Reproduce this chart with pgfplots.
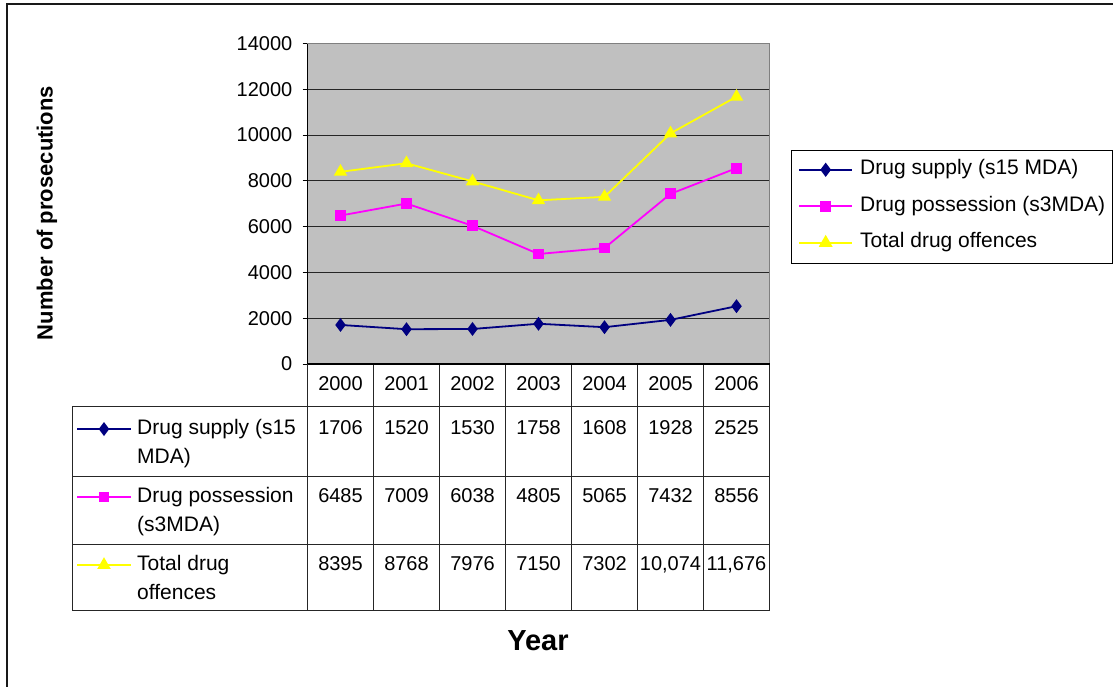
\documentclass[border=0pt]{standalone}
\usepackage{fontspec}
\setmainfont{Liberation Sans}
\usepackage{pgfplots}
\pgfplotsset{compat=1.18}
\definecolor{plotbg}{RGB}{192,192,192}
\definecolor{bordergray}{RGB}{128,128,128}
\definecolor{supply}{RGB}{0,0,128}
\definecolor{poss}{RGB}{255,0,255}
\definecolor{total}{RGB}{255,255,0}
\newcommand\tf{\fontsize{20}{24}\selectfont}
\newcommand\tx{\fontsize{21}{25}\selectfont}
\begin{document}
\begin{tikzpicture}
\useasboundingbox (0pt,0pt) rectangle (1113pt,-686pt);
\begin{axis}[
  at={(307.5pt,-364pt)}, anchor=south west,
  scale only axis, width=462pt, height=320.5pt,
  xmin=-0.5, xmax=6.5, ymin=0, ymax=14000,
  xtick=\empty,
  ytick={0,2000,...,14000},
  scaled y ticks=false,
  ytick pos=left, tick align=outside, major tick length=5pt,
  tick style={black, line width=1pt},
  ymajorgrids, grid style={black!85, line width=1pt},
  axis background/.style={fill=plotbg},
  axis line style={bordergray, line width=1.2pt},
  yticklabel style={font=\tf, inner sep=0pt, xshift=-10pt},
  /pgf/number format/assume math mode=true,
  /pgf/number format/1000 sep={},
  legend style={at={(1.0465,0.669)}, anchor=north west, draw=black,
    fill=white, font=\tx, inner xsep=7pt, inner ysep=10pt, row sep=16.5pt, column sep=7pt,
    nodes={inner sep=0pt, text height=15pt, text depth=5pt}, cells={anchor=west}},
  legend image code/.code={%
    \draw[#1, line width=2pt] (0pt,0pt) -- (53pt,0pt);
    \draw[#1, line width=2pt] plot[mark repeat=2, mark phase=2] coordinates {(0pt,0pt) (26.5pt,0pt) (53pt,0pt)};},
  clip=false,
]
\addplot[supply, line width=1.8pt, mark=diamond*, mark size=5.5pt, mark options={solid, fill=supply}]
  coordinates {(0,1706) (1,1520) (2,1530) (3,1758) (4,1608) (5,1928) (6,2525)};
\addlegendentry{Drug supply (s15 MDA)}
\addplot[poss, line width=1.8pt, mark=square*, mark size=4.5pt, mark options={solid, fill=poss}]
  coordinates {(0,6485) (1,7009) (2,6038) (3,4805) (4,5065) (5,7432) (6,8556)};
\addlegendentry{Drug possession (s3MDA)}
\addplot[total, line width=1.8pt, mark=triangle*, mark size=6pt, mark options={solid, fill=total}]
  coordinates {(0,8395) (1,8768) (2,7976) (3,7150) (4,7302) (5,10074) (6,11676)};
\addlegendentry{Total drug offences}
\draw[black, line width=1.2pt] (rel axis cs:0,0) -- (rel axis cs:0,1);
\end{axis}
\begin{scope}[x=1pt, y=-1pt]
  % outer frame
  \draw[line width=2pt, black!90] (7,700) -- (7,4) -- (1130,4);
  % data table grid
  \begin{scope}[line width=1pt, draw=black!85]
    \foreach \k in {1,...,7} { \draw ({307.5+66*\k},364) -- ({307.5+66*\k},610); }
    \draw (307.5,364) -- (307.5,610);
    \draw (72,406) -- (72,610);
    \foreach \yy in {406,476,544,610} { \draw (72,\yy) -- (769.5,\yy); }
  \end{scope}
  \draw[black, line width=1.2pt] (307.5,364) -- (769.5,364);
  % header
  \foreach \t [count=\i from 0] in {2000,2001,2002,2003,2004,2005,2006}
    \node[anchor=base, font=\tf, inner sep=0pt] at ({340.5+66*\i},390) {\t};
  \foreach \t [count=\i from 0] in {1706,1520,1530,1758,1608,1928,2525}
    \node[anchor=base, font=\tf, inner sep=0pt] at ({340.5+66*\i},434) {\t};
  \foreach \t [count=\i from 0] in {6485,7009,6038,4805,5065,7432,8556}
    \node[anchor=base, font=\tf, inner sep=0pt] at ({340.5+66*\i},502) {\t};
  \foreach \t [count=\i from 0] in {8395,8768,7976,7150,7302,{10,074},{11,676}}
    \node[anchor=base, font=\tf, inner sep=0pt] at ({340.5+66*\i},570) {\t};
  % row names
  \node[anchor=base west, font=\tx, inner sep=0pt] at (137,434) {Drug supply (s15};
  \node[anchor=base west, font=\tx, inner sep=0pt] at (137,463) {MDA)};
  \node[anchor=base west, font=\tx, inner sep=0pt] at (137,502) {Drug possession};
  \node[anchor=base west, font=\tx, inner sep=0pt] at (137,531) {(s3MDA)};
  \node[anchor=base west, font=\tx, inner sep=0pt] at (137,570) {Total drug};
  \node[anchor=base west, font=\tx, inner sep=0pt] at (137,599) {offences};
  % row legend keys
  \draw[supply, line width=1.8pt] plot[mark=diamond*, mark size=5.5pt, mark repeat=2, mark phase=2, mark options={fill=supply}] coordinates {(77,429) (104,429) (131,429)};
  \draw[poss, line width=1.8pt] plot[mark=square*, mark size=4.5pt, mark repeat=2, mark phase=2, mark options={fill=poss}] coordinates {(77,497) (104,497) (131,497)};
  \draw[total, line width=1.8pt] plot[mark=triangle*, mark size=6pt, mark repeat=2, mark phase=2, mark options={fill=total}] coordinates {(77,565) (104,565) (131,565)};
  % titles
  \node[rotate=90, font=\fontsize{22}{26}\selectfont\bfseries, inner sep=0pt] at (47,213) {Number of prosecutions};
  \node[font=\fontsize{29}{34}\selectfont\bfseries, inner sep=0pt] at (538,641) {Year};
\end{scope}
\end{tikzpicture}
\end{document}
